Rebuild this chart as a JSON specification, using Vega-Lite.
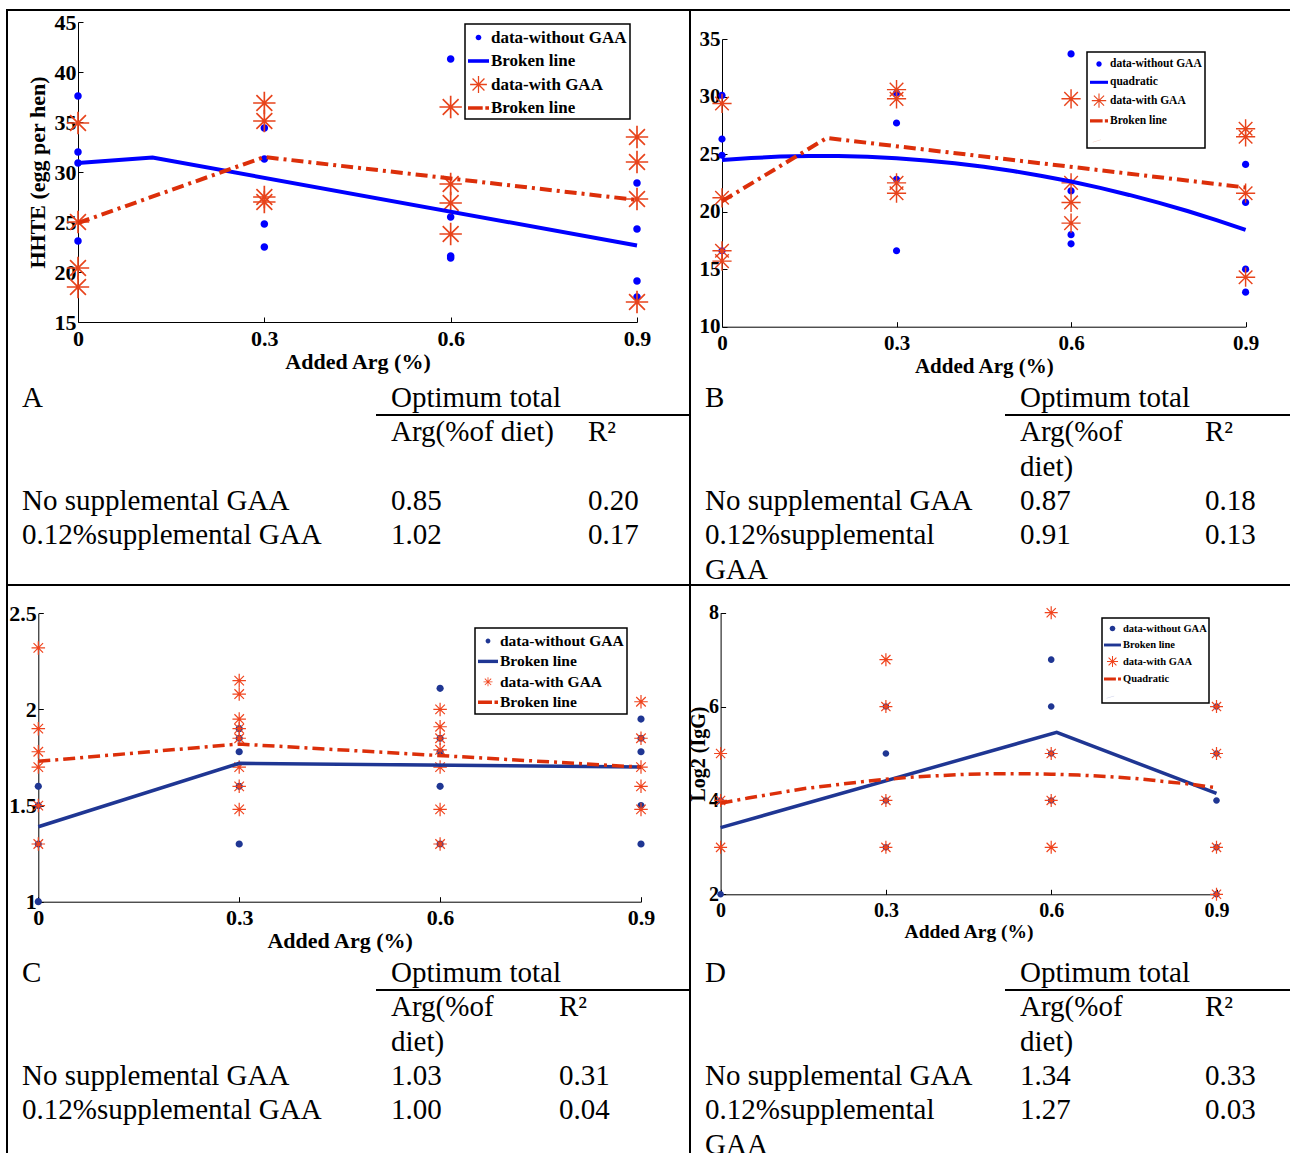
{
  "$schema": "https://vega.github.io/schema/vega-lite/v6.json",
  "padding": {"left": 6, "top": 9, "right": 0, "bottom": 0},
  "background": "white",
  "spacing": 0,
  "bounds": "flush",
  "columns": 2,
  "resolve": {"scale": {"color": "independent", "shape": "independent"}},
  "config": {
    "font": "Liberation Serif",
    "view": {"stroke": "#000000", "strokeWidth": 2},
    "axis": {"domainColor": "#000000", "domainWidth": 1, "tickColor": "#000000", "tickWidth": 1, "tickSize": -5, "labelPadding": 7, "labelColor": "#000000", "titleColor": "#000000", "labelFont": "Liberation Serif", "titleFont": "Liberation Serif", "labelFontWeight": "bold", "titleFontWeight": "bold", "grid": false, "labelFlush": false, "labelOverlap": false, "labelBound": false},
    "legend": {"strokeColor": "#000000", "strokeWidth": 1.5, "fillColor": "#ffffff", "labelFont": "Liberation Serif", "labelFontWeight": "bold", "labelColor": "#000000", "symbolStrokeWidth": 0, "labelOffset": 2, "symbolOpacity": 1, "labelLimit": 300},
    "text": {"font": "Liberation Serif"}
  },
  "concat": [
        {
          "width": 683, "height": 575,
          "resolve": {"scale": {"x": "independent", "y": "independent"}, "axis": {"x": "independent", "y": "independent"}},
          "layer": [
            {
              "data": {"values": [
                {"arg": 0, "value": 37.6, "series": "data-without GAA"}, {"arg": 0, "value": 32.0, "series": "data-without GAA"}, {"arg": 0, "value": 30.9, "series": "data-without GAA"}, {"arg": 0, "value": 23.1, "series": "data-without GAA"},
                {"arg": 0.3, "value": 34.4, "series": "data-without GAA"}, {"arg": 0.3, "value": 31.3, "series": "data-without GAA"}, {"arg": 0.3, "value": 24.8, "series": "data-without GAA"}, {"arg": 0.3, "value": 22.5, "series": "data-without GAA"},
                {"arg": 0.6, "value": 41.3, "series": "data-without GAA"}, {"arg": 0.6, "value": 25.5, "series": "data-without GAA"}, {"arg": 0.6, "value": 21.6, "series": "data-without GAA"}, {"arg": 0.6, "value": 21.4, "series": "data-without GAA"},
                {"arg": 0.9, "value": 28.9, "series": "data-without GAA"}, {"arg": 0.9, "value": 24.3, "series": "data-without GAA"}, {"arg": 0.9, "value": 19.1, "series": "data-without GAA"}, {"arg": 0.9, "value": 17.5, "series": "data-without GAA"},
                {"arg": 0, "value": 34.9, "series": "data-with GAA"}, {"arg": 0, "value": 25.0, "series": "data-with GAA"}, {"arg": 0, "value": 20.4, "series": "data-with GAA"}, {"arg": 0, "value": 18.5, "series": "data-with GAA"},
                {"arg": 0.3, "value": 36.9, "series": "data-with GAA"}, {"arg": 0.3, "value": 35.1, "series": "data-with GAA"}, {"arg": 0.3, "value": 27.5, "series": "data-with GAA"}, {"arg": 0.3, "value": 27.0, "series": "data-with GAA"},
                {"arg": 0.6, "value": 36.5, "series": "data-with GAA"}, {"arg": 0.6, "value": 28.8, "series": "data-with GAA"}, {"arg": 0.6, "value": 26.9, "series": "data-with GAA"}, {"arg": 0.6, "value": 23.8, "series": "data-with GAA"},
                {"arg": 0.9, "value": 33.5, "series": "data-with GAA"}, {"arg": 0.9, "value": 31.0, "series": "data-with GAA"}, {"arg": 0.9, "value": 27.3, "series": "data-with GAA"}, {"arg": 0.9, "value": 17.0, "series": "data-with GAA"},
                {"arg": 0, "value": 30.9, "series": "Broken line"}, {"arg": 0.12, "value": 31.45, "series": "Broken line"}, {"arg": 0.9, "value": 22.65, "series": "Broken line"},
                {"arg": 0, "value": 24.9, "series": "Broken line "}, {"arg": 0.3, "value": 31.5, "series": "Broken line "}, {"arg": 0.9, "value": 27.2, "series": "Broken line "}
              ]},
              "encoding": {
                "x": {"field": "arg", "type": "quantitative", "scale": {"domain": [0, 0.9], "range": [71, 630], "nice": false, "zero": false}, "axis": {"orient": "bottom", "offset": -263, "values": [0, 0.3, 0.6, 0.9], "format": ".1~f", "title": "Added Arg (%)", "labelFontSize": 22, "titleFontSize": 22, "labelPadding": 11, "titlePadding": 2}},
                "y": {"field": "value", "type": "quantitative", "scale": {"domain": [15, 45], "range": [312, 12], "nice": false, "zero": false}, "axis": {"orient": "left", "offset": -71, "values": [15, 20, 25, 30, 35, 40, 45], "title": "HHTE (egg per hen)", "labelFontSize": 22, "titleFontSize": 22, "titlePadding": 5}}
              },
              "layer": [
                {
                  "transform": [{"filter": {"field": "series", "oneOf": ["data-without GAA", "data-with GAA"]}}],
                  "mark": {"type": "point", "filled": true, "opacity": 1, "size": 784},
                  "encoding": {
                    "color": {"field": "series", "type": "nominal", "scale": {"domain": ["data-without GAA", "Broken line", "data-with GAA", "Broken line "], "range": ["#0000ff", "#0000ff", "#e8441c", "#dc2f0a"]}, "legend": {"title": null, "orient": "none", "legendX": 458, "legendY": 14, "symbolSize": 441, "labelFontSize": 17, "rowPadding": 4.5, "padding": 3}},
                    "shape": {"field": "series", "type": "nominal", "scale": {"domain": ["data-without GAA", "Broken line", "data-with GAA", "Broken line "], "range": ["M-0.27,0A0.27,0.27,0,1,1,0.27,0A0.27,0.27,0,1,1,-0.27,0Z", "M-1,-0.17H1V0.17H-1Z", "M-0.8,-0.06H0.8V0.06H-0.8ZM-0.06,-0.8H0.06V0.8H-0.06ZM-0.524,-0.608L0.608,0.524L0.524,0.608L-0.608,-0.524ZM-0.524,0.608L-0.608,0.524L0.524,-0.608L0.608,-0.524Z", "M-1,-0.17H0.4V0.17H-1ZM0.65,-0.17H1V0.17H0.65Z"]}, "legend": {"title": null, "orient": "none", "legendX": 458, "legendY": 14, "symbolSize": 441, "labelFontSize": 17, "rowPadding": 4.5, "padding": 3}}
                  }
                },
                {"transform": [{"filter": {"field": "series", "equal": "Broken line"}}], "mark": {"type": "line", "color": "#0000ff", "strokeWidth": 4}, "encoding": {}},
                {"transform": [{"filter": {"field": "series", "equal": "Broken line "}}], "mark": {"type": "line", "color": "#dc2f0a", "strokeWidth": 4, "strokeDash": [12, 5, 3, 5]}, "encoding": {}}
              ]
            },
            {
              "encoding": {
                "x": {"type": "quantitative", "scale": {"domain": [0, 1, 2, 3], "range": [0, 369, 566, 683], "nice": false, "zero": false}, "axis": null},
                "y": {"type": "quantitative", "scale": {"domain": [0, 5], "range": [405, 576.5], "nice": false, "zero": false}, "axis": null}
              },
              "layer": [
                {
                  "data": {"values": [
                    {"line": 0, "col": 0, "text": "A"}, {"line": 0, "col": 1, "text": "Optimum total"},
                    {"line": 1, "col": 1, "text": "Arg(%of diet)"}, {"line": 1, "col": 2, "text": "R²"},
                    {"line": 3, "col": 0, "text": "No supplemental GAA"}, {"line": 3, "col": 1, "text": "0.85"}, {"line": 3, "col": 2, "text": "0.20"},
                    {"line": 4, "col": 0, "text": "0.12%supplemental GAA"}, {"line": 4, "col": 1, "text": "1.02"}, {"line": 4, "col": 2, "text": "0.17"}
                  ]},
                  "mark": {"type": "text", "align": "left", "baseline": "alphabetic", "dx": 15, "dy": -8, "fontSize": 29, "color": "#000000"},
                  "encoding": {"x": {"field": "col", "type": "quantitative"}, "y": {"field": "line", "type": "quantitative"}, "text": {"field": "text"}}
                },
                {
                  "data": {"values": [{"line": 0, "from": 1, "to": 3}]},
                  "mark": {"type": "rule", "strokeWidth": 2, "color": "#000000"},
                  "encoding": {"x": {"field": "from", "type": "quantitative"}, "x2": {"field": "to"}, "y": {"field": "line", "type": "quantitative"}}
                }
              ]
            }
          ]
        },
        {
          "width": 602, "height": 575,
          "resolve": {"scale": {"x": "independent", "y": "independent"}, "axis": {"x": "independent", "y": "independent"}},
          "layer": [
            {
              "data": {"values": [
                {"arg": 0, "value": 30.1, "series": "data-without GAA"}, {"arg": 0, "value": 26.3, "series": "data-without GAA"}, {"arg": 0, "value": 24.9, "series": "data-without GAA"}, {"arg": 0, "value": 16.6, "series": "data-without GAA"},
                {"arg": 0.3, "value": 30.3, "series": "data-without GAA"}, {"arg": 0.3, "value": 27.7, "series": "data-without GAA"}, {"arg": 0.3, "value": 22.8, "series": "data-without GAA"}, {"arg": 0.3, "value": 16.6, "series": "data-without GAA"},
                {"arg": 0.6, "value": 33.7, "series": "data-without GAA"}, {"arg": 0.6, "value": 21.8, "series": "data-without GAA"}, {"arg": 0.6, "value": 18.0, "series": "data-without GAA"}, {"arg": 0.6, "value": 17.2, "series": "data-without GAA"},
                {"arg": 0.9, "value": 24.1, "series": "data-without GAA"}, {"arg": 0.9, "value": 20.8, "series": "data-without GAA"}, {"arg": 0.9, "value": 15.0, "series": "data-without GAA"}, {"arg": 0.9, "value": 13.0, "series": "data-without GAA"},
                {"arg": 0, "value": 29.4, "series": "data-with GAA"}, {"arg": 0, "value": 21.2, "series": "data-with GAA"}, {"arg": 0, "value": 16.6, "series": "data-with GAA"}, {"arg": 0, "value": 15.7, "series": "data-with GAA"},
                {"arg": 0.3, "value": 30.6, "series": "data-with GAA"}, {"arg": 0.3, "value": 29.8, "series": "data-with GAA"}, {"arg": 0.3, "value": 22.5, "series": "data-with GAA"}, {"arg": 0.3, "value": 21.6, "series": "data-with GAA"},
                {"arg": 0.6, "value": 29.8, "series": "data-with GAA"}, {"arg": 0.6, "value": 22.5, "series": "data-with GAA"}, {"arg": 0.6, "value": 20.8, "series": "data-with GAA"}, {"arg": 0.6, "value": 19.0, "series": "data-with GAA"},
                {"arg": 0.9, "value": 27.2, "series": "data-with GAA"}, {"arg": 0.9, "value": 26.5, "series": "data-with GAA"}, {"arg": 0.9, "value": 21.6, "series": "data-with GAA"}, {"arg": 0.9, "value": 14.3, "series": "data-with GAA"},
                {"arg": 0, "value": 24.48, "series": "quadratic"}, {"arg": 0.05, "value": 24.66, "series": "quadratic"}, {"arg": 0.1, "value": 24.78, "series": "quadratic"}, {"arg": 0.15, "value": 24.83, "series": "quadratic"},
                {"arg": 0.2, "value": 24.83, "series": "quadratic"}, {"arg": 0.25, "value": 24.77, "series": "quadratic"}, {"arg": 0.3, "value": 24.64, "series": "quadratic"}, {"arg": 0.35, "value": 24.45, "series": "quadratic"},
                {"arg": 0.4, "value": 24.21, "series": "quadratic"}, {"arg": 0.45, "value": 23.9, "series": "quadratic"}, {"arg": 0.5, "value": 23.53, "series": "quadratic"}, {"arg": 0.55, "value": 23.1, "series": "quadratic"},
                {"arg": 0.6, "value": 22.61, "series": "quadratic"}, {"arg": 0.65, "value": 22.06, "series": "quadratic"}, {"arg": 0.7, "value": 21.45, "series": "quadratic"}, {"arg": 0.75, "value": 20.78, "series": "quadratic"},
                {"arg": 0.8, "value": 20.05, "series": "quadratic"}, {"arg": 0.85, "value": 19.26, "series": "quadratic"}, {"arg": 0.9, "value": 18.41, "series": "quadratic"},
                {"arg": 0, "value": 20.9, "series": "Broken line"}, {"arg": 0.18, "value": 26.4, "series": "Broken line"}, {"arg": 0.9, "value": 22.1, "series": "Broken line"}
              ]},
              "encoding": {
                "x": {"field": "arg", "type": "quantitative", "scale": {"domain": [0, 0.9], "range": [32, 555.6], "nice": false, "zero": false}, "axis": {"orient": "bottom", "offset": -258.3, "values": [0, 0.3, 0.6, 0.9], "format": ".1~f", "title": "Added Arg (%)", "labelFontSize": 21, "titleFontSize": 21, "labelPadding": 11, "titlePadding": 2}},
                "y": {"field": "value", "type": "quantitative", "scale": {"domain": [10, 35], "range": [316.7, 29], "nice": false, "zero": false}, "axis": {"orient": "left", "offset": -32, "values": [10, 15, 20, 25, 30, 35], "title": null, "labelFontSize": 21}}
              },
              "layer": [
                {
                  "transform": [{"filter": {"field": "series", "oneOf": ["data-without GAA", "data-with GAA"]}}],
                  "mark": {"type": "point", "filled": true, "opacity": 1, "size": 576},
                  "encoding": {
                    "color": {"field": "series", "type": "nominal", "scale": {"domain": ["data-without GAA", "quadratic", "data-with GAA", "Broken line", " "], "range": ["#0000ff", "#0000ff", "#e8441c", "#dc2f0a", "#f4c8b8"]}, "legend": {"title": null, "orient": "none", "legendX": 397, "legendY": 42, "symbolSize": 324, "labelFontSize": 11.5, "rowPadding": 3.3, "padding": 3}},
                    "shape": {"field": "series", "type": "nominal", "scale": {"domain": ["data-without GAA", "quadratic", "data-with GAA", "Broken line", " "], "range": ["M-0.3,0A0.3,0.3,0,1,1,0.3,0A0.3,0.3,0,1,1,-0.3,0Z", "M-1,-0.17H1V0.17H-1Z", "M-0.8,-0.06H0.8V0.06H-0.8ZM-0.06,-0.8H0.06V0.8H-0.06ZM-0.524,-0.608L0.608,0.524L0.524,0.608L-0.608,-0.524ZM-0.524,0.608L-0.608,0.524L0.524,-0.608L0.608,-0.524Z", "M-1,-0.17H0.4V0.17H-1ZM0.65,-0.17H1V0.17H0.65Z", "M-0.7,0.3L0.2,0.02L0.2,0.08L-0.7,0.36Z"]}, "legend": {"title": null, "orient": "none", "legendX": 397, "legendY": 42, "symbolSize": 324, "labelFontSize": 11.5, "rowPadding": 3.3, "padding": 3}}
                  }
                },
                {"transform": [{"filter": {"field": "series", "equal": "quadratic"}}], "mark": {"type": "line", "color": "#0000ff", "strokeWidth": 4}, "encoding": {}},
                {"transform": [{"filter": {"field": "series", "equal": "Broken line"}}], "mark": {"type": "line", "color": "#dc2f0a", "strokeWidth": 4, "strokeDash": [12, 5, 3, 5]}, "encoding": {}}
              ]
            },
            {
              "encoding": {
                "x": {"type": "quantitative", "scale": {"domain": [0, 1, 2, 3], "range": [0, 315, 500, 602], "nice": false, "zero": false}, "axis": null},
                "y": {"type": "quantitative", "scale": {"domain": [0, 5], "range": [405, 576.5], "nice": false, "zero": false}, "axis": null}
              },
              "layer": [
                {
                  "data": {"values": [
                    {"line": 0, "col": 0, "text": "B"}, {"line": 0, "col": 1, "text": "Optimum total"},
                    {"line": 1, "col": 1, "text": "Arg(%of"}, {"line": 1, "col": 2, "text": "R²"},
                    {"line": 2, "col": 1, "text": "diet)"},
                    {"line": 3, "col": 0, "text": "No supplemental GAA"}, {"line": 3, "col": 1, "text": "0.87"}, {"line": 3, "col": 2, "text": "0.18"},
                    {"line": 4, "col": 0, "text": "0.12%supplemental"}, {"line": 4, "col": 1, "text": "0.91"}, {"line": 4, "col": 2, "text": "0.13"},
                    {"line": 5, "col": 0, "text": "GAA"}
                  ]},
                  "mark": {"type": "text", "align": "left", "baseline": "alphabetic", "dx": 15, "dy": -8, "fontSize": 29, "color": "#000000"},
                  "encoding": {"x": {"field": "col", "type": "quantitative"}, "y": {"field": "line", "type": "quantitative"}, "text": {"field": "text"}}
                },
                {
                  "data": {"values": [{"line": 0, "from": 1, "to": 3}]},
                  "mark": {"type": "rule", "strokeWidth": 2, "color": "#000000"},
                  "encoding": {"x": {"field": "from", "type": "quantitative"}, "x2": {"field": "to"}, "y": {"field": "line", "type": "quantitative"}}
                }
              ]
            }
          ]
        },
        {
          "width": 683, "height": 575,
          "resolve": {"scale": {"x": "independent", "y": "independent"}, "axis": {"x": "independent", "y": "independent"}},
          "layer": [
            {
              "data": {"values": [
                {"arg": 0, "value": 1.0, "series": "data-without GAA"}, {"arg": 0, "value": 1.6, "series": "data-without GAA"}, {"arg": 0, "value": 1.5, "series": "data-without GAA"}, {"arg": 0, "value": 1.3, "series": "data-without GAA"},
                {"arg": 0.3, "value": 1.9, "series": "data-without GAA"}, {"arg": 0.3, "value": 1.85, "series": "data-without GAA"}, {"arg": 0.3, "value": 1.78, "series": "data-without GAA"}, {"arg": 0.3, "value": 1.6, "series": "data-without GAA"}, {"arg": 0.3, "value": 1.3, "series": "data-without GAA"},
                {"arg": 0.6, "value": 2.11, "series": "data-without GAA"}, {"arg": 0.6, "value": 1.85, "series": "data-without GAA"}, {"arg": 0.6, "value": 1.78, "series": "data-without GAA"}, {"arg": 0.6, "value": 1.6, "series": "data-without GAA"}, {"arg": 0.6, "value": 1.3, "series": "data-without GAA"},
                {"arg": 0.9, "value": 1.95, "series": "data-without GAA"}, {"arg": 0.9, "value": 1.85, "series": "data-without GAA"}, {"arg": 0.9, "value": 1.78, "series": "data-without GAA"}, {"arg": 0.9, "value": 1.5, "series": "data-without GAA"}, {"arg": 0.9, "value": 1.3, "series": "data-without GAA"},
                {"arg": 0, "value": 2.32, "series": "data-with GAA"}, {"arg": 0, "value": 1.9, "series": "data-with GAA"}, {"arg": 0, "value": 1.78, "series": "data-with GAA"}, {"arg": 0, "value": 1.7, "series": "data-with GAA"}, {"arg": 0, "value": 1.5, "series": "data-with GAA"}, {"arg": 0, "value": 1.3, "series": "data-with GAA"},
                {"arg": 0.3, "value": 2.15, "series": "data-with GAA"}, {"arg": 0.3, "value": 2.08, "series": "data-with GAA"}, {"arg": 0.3, "value": 1.95, "series": "data-with GAA"}, {"arg": 0.3, "value": 1.9, "series": "data-with GAA"}, {"arg": 0.3, "value": 1.85, "series": "data-with GAA"}, {"arg": 0.3, "value": 1.7, "series": "data-with GAA"}, {"arg": 0.3, "value": 1.6, "series": "data-with GAA"}, {"arg": 0.3, "value": 1.48, "series": "data-with GAA"},
                {"arg": 0.6, "value": 2.0, "series": "data-with GAA"}, {"arg": 0.6, "value": 1.91, "series": "data-with GAA"}, {"arg": 0.6, "value": 1.85, "series": "data-with GAA"}, {"arg": 0.6, "value": 1.79, "series": "data-with GAA"}, {"arg": 0.6, "value": 1.7, "series": "data-with GAA"}, {"arg": 0.6, "value": 1.48, "series": "data-with GAA"}, {"arg": 0.6, "value": 1.3, "series": "data-with GAA"},
                {"arg": 0.9, "value": 2.04, "series": "data-with GAA"}, {"arg": 0.9, "value": 1.85, "series": "data-with GAA"}, {"arg": 0.9, "value": 1.7, "series": "data-with GAA"}, {"arg": 0.9, "value": 1.6, "series": "data-with GAA"}, {"arg": 0.9, "value": 1.48, "series": "data-with GAA"},
                {"arg": 0, "value": 1.39, "series": "Broken line"}, {"arg": 0.3, "value": 1.72, "series": "Broken line"}, {"arg": 0.9, "value": 1.7, "series": "Broken line"},
                {"arg": 0, "value": 1.73, "series": "Broken line "}, {"arg": 0.3, "value": 1.82, "series": "Broken line "}, {"arg": 0.9, "value": 1.7, "series": "Broken line "}
              ]},
              "encoding": {
                "x": {"field": "arg", "type": "quantitative", "scale": {"domain": [0, 0.9], "range": [31.3, 634], "nice": false, "zero": false}, "axis": {"orient": "bottom", "offset": -258.3, "values": [0, 0.3, 0.6, 0.9], "format": ".1~f", "title": "Added Arg (%)", "labelFontSize": 22, "titleFontSize": 22, "labelPadding": 11, "titlePadding": 2}},
                "y": {"field": "value", "type": "quantitative", "scale": {"domain": [1, 2.5], "range": [316.7, 28.3], "nice": false, "zero": false}, "axis": {"orient": "left", "offset": -31.3, "values": [1, 1.5, 2, 2.5], "format": "~g", "title": null, "labelFontSize": 22}}
              },
              "layer": [
                {
                  "transform": [{"filter": {"field": "series", "oneOf": ["data-without GAA", "data-with GAA"]}}],
                  "mark": {"type": "point", "filled": true, "opacity": 1, "size": 900},
                  "encoding": {
                    "color": {"field": "series", "type": "nominal", "scale": {"domain": ["data-without GAA", "Broken line", "data-with GAA", "Broken line "], "range": ["#1f3693", "#1f3693", "#f0441e", "#dc2f0a"]}, "legend": {"title": null, "orient": "none", "legendX": 468, "legendY": 43, "symbolSize": 400, "labelFontSize": 15.5, "rowPadding": 1.4, "padding": 3}},
                    "shape": {"field": "series", "type": "nominal", "scale": {"domain": ["data-without GAA", "Broken line", "data-with GAA", "Broken line "], "range": ["M-0.24,0A0.24,0.24,0,1,1,0.24,0A0.24,0.24,0,1,1,-0.24,0Z", "M-1,-0.17H1V0.17H-1Z", "M-0.45,-0.04H0.45V0.04H-0.45ZM-0.04,-0.45H0.04V0.45H-0.04ZM-0.29,-0.346L0.346,0.29L0.29,0.346L-0.346,-0.29ZM-0.29,0.346L-0.346,0.29L0.29,-0.346L0.346,-0.29Z", "M-1,-0.17H0.4V0.17H-1ZM0.65,-0.17H1V0.17H0.65Z"]}, "legend": {"title": null, "orient": "none", "legendX": 468, "legendY": 43, "symbolSize": 400, "labelFontSize": 15.5, "rowPadding": 1.4, "padding": 3}}
                  }
                },
                {"transform": [{"filter": {"field": "series", "equal": "Broken line"}}], "mark": {"type": "line", "color": "#1f3693", "strokeWidth": 3.5}, "encoding": {}},
                {"transform": [{"filter": {"field": "series", "equal": "Broken line "}}], "mark": {"type": "line", "color": "#dc2f0a", "strokeWidth": 3.5, "strokeDash": [12, 5, 3, 5]}, "encoding": {}}
              ]
            },
            {
              "encoding": {
                "x": {"type": "quantitative", "scale": {"domain": [0, 1, 2, 3], "range": [0, 369, 537, 683], "nice": false, "zero": false}, "axis": null},
                "y": {"type": "quantitative", "scale": {"domain": [0, 5], "range": [405, 576.5], "nice": false, "zero": false}, "axis": null}
              },
              "layer": [
                {
                  "data": {"values": [
                    {"line": 0, "col": 0, "text": "C"}, {"line": 0, "col": 1, "text": "Optimum total"},
                    {"line": 1, "col": 1, "text": "Arg(%of"}, {"line": 1, "col": 2, "text": "R²"},
                    {"line": 2, "col": 1, "text": "diet)"},
                    {"line": 3, "col": 0, "text": "No supplemental GAA"}, {"line": 3, "col": 1, "text": "1.03"}, {"line": 3, "col": 2, "text": "0.31"},
                    {"line": 4, "col": 0, "text": "0.12%supplemental GAA"}, {"line": 4, "col": 1, "text": "1.00"}, {"line": 4, "col": 2, "text": "0.04"}
                  ]},
                  "mark": {"type": "text", "align": "left", "baseline": "alphabetic", "dx": 15, "dy": -8, "fontSize": 29, "color": "#000000"},
                  "encoding": {"x": {"field": "col", "type": "quantitative"}, "y": {"field": "line", "type": "quantitative"}, "text": {"field": "text"}}
                },
                {
                  "data": {"values": [{"line": 0, "from": 1, "to": 3}]},
                  "mark": {"type": "rule", "strokeWidth": 2, "color": "#000000"},
                  "encoding": {"x": {"field": "from", "type": "quantitative"}, "x2": {"field": "to"}, "y": {"field": "line", "type": "quantitative"}}
                }
              ]
            }
          ]
        },
        {
          "width": 602, "height": 575,
          "resolve": {"scale": {"x": "independent", "y": "independent"}, "axis": {"x": "independent", "y": "independent"}},
          "layer": [
            {
              "data": {"values": [
                {"arg": 0, "value": 2, "series": "data-without GAA"}, {"arg": 0, "value": 4, "series": "data-without GAA"},
                {"arg": 0.3, "value": 6, "series": "data-without GAA"}, {"arg": 0.3, "value": 5, "series": "data-without GAA"}, {"arg": 0.3, "value": 4, "series": "data-without GAA"}, {"arg": 0.3, "value": 3, "series": "data-without GAA"},
                {"arg": 0.6, "value": 7, "series": "data-without GAA"}, {"arg": 0.6, "value": 6, "series": "data-without GAA"}, {"arg": 0.6, "value": 5, "series": "data-without GAA"}, {"arg": 0.6, "value": 4, "series": "data-without GAA"},
                {"arg": 0.9, "value": 6, "series": "data-without GAA"}, {"arg": 0.9, "value": 5, "series": "data-without GAA"}, {"arg": 0.9, "value": 4, "series": "data-without GAA"}, {"arg": 0.9, "value": 3, "series": "data-without GAA"}, {"arg": 0.9, "value": 2, "series": "data-without GAA"},
                {"arg": 0, "value": 5, "series": "data-with GAA"}, {"arg": 0, "value": 4, "series": "data-with GAA"}, {"arg": 0, "value": 3, "series": "data-with GAA"},
                {"arg": 0.3, "value": 7, "series": "data-with GAA"}, {"arg": 0.3, "value": 6, "series": "data-with GAA"}, {"arg": 0.3, "value": 4, "series": "data-with GAA"}, {"arg": 0.3, "value": 3, "series": "data-with GAA"},
                {"arg": 0.6, "value": 8, "series": "data-with GAA"}, {"arg": 0.6, "value": 5, "series": "data-with GAA"}, {"arg": 0.6, "value": 4, "series": "data-with GAA"}, {"arg": 0.6, "value": 3, "series": "data-with GAA"},
                {"arg": 0.9, "value": 6, "series": "data-with GAA"}, {"arg": 0.9, "value": 5, "series": "data-with GAA"}, {"arg": 0.9, "value": 3, "series": "data-with GAA"}, {"arg": 0.9, "value": 2, "series": "data-with GAA"},
                {"arg": 0, "value": 3.42, "series": "Broken line"}, {"arg": 0.61, "value": 5.45, "series": "Broken line"}, {"arg": 0.9, "value": 4.15, "series": "Broken line"},
                {"arg": 0, "value": 3.94, "series": "Quadratic"}, {"arg": 0.05, "value": 4.05, "series": "Quadratic"}, {"arg": 0.1, "value": 4.15, "series": "Quadratic"}, {"arg": 0.15, "value": 4.25, "series": "Quadratic"},
                {"arg": 0.2, "value": 4.32, "series": "Quadratic"}, {"arg": 0.25, "value": 4.39, "series": "Quadratic"}, {"arg": 0.3, "value": 4.45, "series": "Quadratic"}, {"arg": 0.35, "value": 4.5, "series": "Quadratic"},
                {"arg": 0.4, "value": 4.53, "series": "Quadratic"}, {"arg": 0.45, "value": 4.56, "series": "Quadratic"}, {"arg": 0.5, "value": 4.57, "series": "Quadratic"}, {"arg": 0.55, "value": 4.57, "series": "Quadratic"},
                {"arg": 0.6, "value": 4.56, "series": "Quadratic"}, {"arg": 0.65, "value": 4.54, "series": "Quadratic"}, {"arg": 0.7, "value": 4.51, "series": "Quadratic"}, {"arg": 0.75, "value": 4.47, "series": "Quadratic"},
                {"arg": 0.8, "value": 4.41, "series": "Quadratic"}, {"arg": 0.85, "value": 4.35, "series": "Quadratic"}, {"arg": 0.9, "value": 4.27, "series": "Quadratic"}
              ]},
              "encoding": {
                "x": {"field": "arg", "type": "quantitative", "scale": {"domain": [0, 0.9], "range": [30.6, 526.5], "nice": false, "zero": false}, "axis": {"orient": "bottom", "offset": -265.7, "values": [0, 0.3, 0.6, 0.9], "format": ".1~f", "title": "Added Arg (%)", "labelFontSize": 20, "titleFontSize": 19.5, "labelPadding": 11, "titlePadding": 2}},
                "y": {"field": "value", "type": "quantitative", "scale": {"domain": [2, 8], "range": [309.3, 27.7], "nice": false, "zero": false}, "axis": {"orient": "left", "offset": -30.6, "values": [2, 4, 6, 8], "title": "Log2 (IgG)", "labelFontSize": 20, "titleFontSize": 20, "titlePadding": 0}}
              },
              "layer": [
                {
                  "transform": [{"filter": {"field": "series", "oneOf": ["data-without GAA", "data-with GAA"]}}],
                  "mark": {"type": "point", "filled": true, "opacity": 1, "size": 400},
                  "encoding": {
                    "color": {"field": "series", "type": "nominal", "scale": {"domain": ["data-without GAA", "Broken line", "data-with GAA", "Quadratic", " "], "range": ["#1f3693", "#1f3693", "#f0441e", "#dc2f0a", "#c8cce8"]}, "legend": {"title": null, "orient": "none", "legendX": 412, "legendY": 33, "symbolSize": 289, "labelFontSize": 10.5, "rowPadding": 2.5, "padding": 2}},
                    "shape": {"field": "series", "type": "nominal", "scale": {"domain": ["data-without GAA", "Broken line", "data-with GAA", "Quadratic", " "], "range": ["M-0.33,0A0.33,0.33,0,1,1,0.33,0A0.33,0.33,0,1,1,-0.33,0Z", "M-1,-0.17H1V0.17H-1Z", "M-0.65,-0.06H0.65V0.06H-0.65ZM-0.06,-0.65H0.06V0.65H-0.06ZM-0.418,-0.502L0.502,0.418L0.418,0.502L-0.502,-0.418ZM-0.418,0.502L-0.502,0.418L0.418,-0.502L0.502,-0.418Z", "M-1,-0.17H0.4V0.17H-1ZM0.65,-0.17H1V0.17H0.65Z", "M-0.7,0.3L0.2,0.02L0.2,0.08L-0.7,0.36Z"]}, "legend": {"title": null, "orient": "none", "legendX": 412, "legendY": 33, "symbolSize": 289, "labelFontSize": 10.5, "rowPadding": 2.5, "padding": 2}}
                  }
                },
                {"transform": [{"filter": {"field": "series", "equal": "Broken line"}}], "mark": {"type": "line", "color": "#1f3693", "strokeWidth": 3.5}, "encoding": {}},
                {"transform": [{"filter": {"field": "series", "equal": "Quadratic"}}], "mark": {"type": "line", "color": "#dc2f0a", "strokeWidth": 3.5, "strokeDash": [12, 5, 3, 5]}, "encoding": {}}
              ]
            },
            {
              "encoding": {
                "x": {"type": "quantitative", "scale": {"domain": [0, 1, 2, 3], "range": [0, 315, 500, 602], "nice": false, "zero": false}, "axis": null},
                "y": {"type": "quantitative", "scale": {"domain": [0, 5], "range": [405, 576.5], "nice": false, "zero": false}, "axis": null}
              },
              "layer": [
                {
                  "data": {"values": [
                    {"line": 0, "col": 0, "text": "D"}, {"line": 0, "col": 1, "text": "Optimum total"},
                    {"line": 1, "col": 1, "text": "Arg(%of"}, {"line": 1, "col": 2, "text": "R²"},
                    {"line": 2, "col": 1, "text": "diet)"},
                    {"line": 3, "col": 0, "text": "No supplemental GAA"}, {"line": 3, "col": 1, "text": "1.34"}, {"line": 3, "col": 2, "text": "0.33"},
                    {"line": 4, "col": 0, "text": "0.12%supplemental"}, {"line": 4, "col": 1, "text": "1.27"}, {"line": 4, "col": 2, "text": "0.03"},
                    {"line": 5, "col": 0, "text": "GAA"}
                  ]},
                  "mark": {"type": "text", "align": "left", "baseline": "alphabetic", "dx": 15, "dy": -8, "fontSize": 29, "color": "#000000"},
                  "encoding": {"x": {"field": "col", "type": "quantitative"}, "y": {"field": "line", "type": "quantitative"}, "text": {"field": "text"}}
                },
                {
                  "data": {"values": [{"line": 0, "from": 1, "to": 3}]},
                  "mark": {"type": "rule", "strokeWidth": 2, "color": "#000000"},
                  "encoding": {"x": {"field": "from", "type": "quantitative"}, "x2": {"field": "to"}, "y": {"field": "line", "type": "quantitative"}}
                }
              ]
            }
          ]
        }
  ]
}
